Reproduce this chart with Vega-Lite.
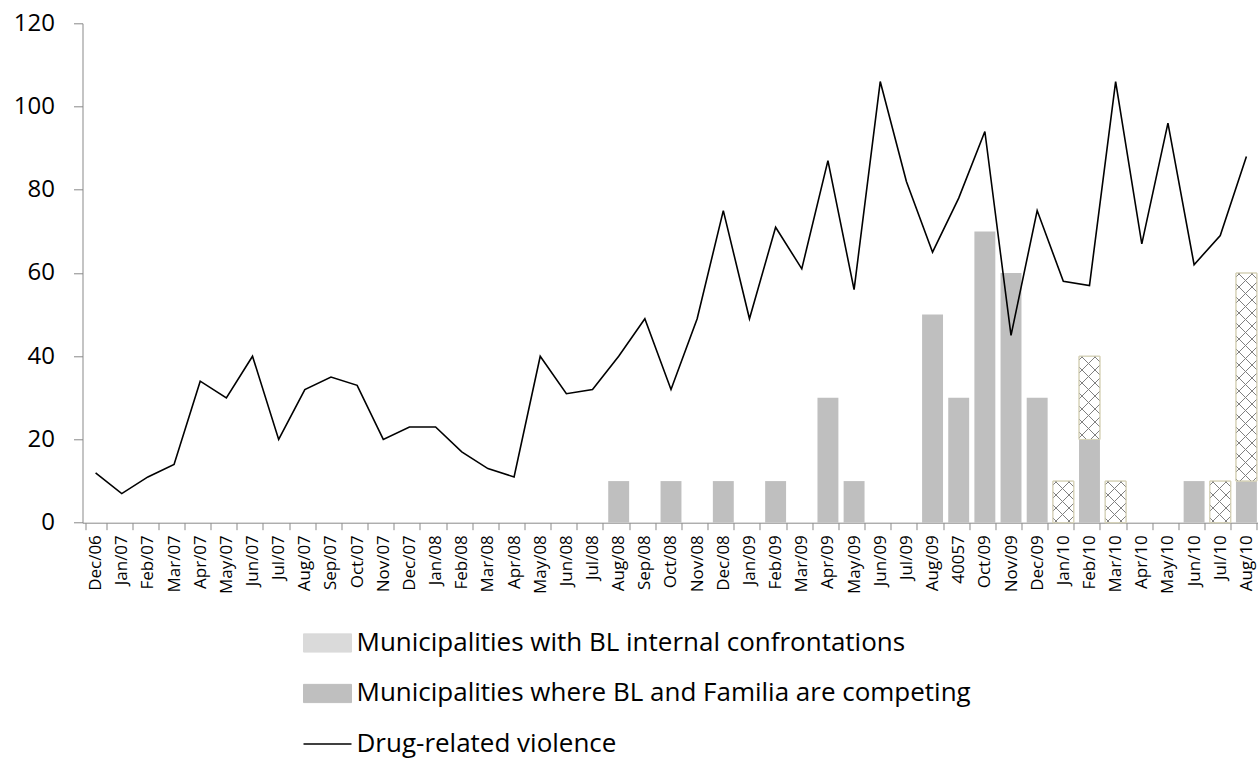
{
  "$schema": "https://vega.github.io/schema/vega-lite/v6.json",
  "width": 1177,
  "height": 499.4,
  "autosize": {"type": "none"},
  "padding": {"left": 82.5, "top": 23.3, "right": 0, "bottom": 236},
  "background": "#ffffff",
  "config": {
    "view": {"stroke": null},
    "axis": {"grid": false, "domainColor": "#898989", "tickColor": "#898989", "labelColor": "#000000", "labelFont": "Open Sans", "title": null},
    "legend": {"labelFont": "Open Sans"}
  },
  "datasets": {
    "violence": [
      {"month": "Dec/06", "violence": 12}, {"month": "Jan/07", "violence": 7}, {"month": "Feb/07", "violence": 11},
      {"month": "Mar/07", "violence": 14}, {"month": "Apr/07", "violence": 34}, {"month": "May/07", "violence": 30},
      {"month": "Jun/07", "violence": 40}, {"month": "Jul/07", "violence": 20}, {"month": "Aug/07", "violence": 32},
      {"month": "Sep/07", "violence": 35}, {"month": "Oct/07", "violence": 33}, {"month": "Nov/07", "violence": 20},
      {"month": "Dec/07", "violence": 23}, {"month": "Jan/08", "violence": 23}, {"month": "Feb/08", "violence": 17},
      {"month": "Mar/08", "violence": 13}, {"month": "Apr/08", "violence": 11}, {"month": "May/08", "violence": 40},
      {"month": "Jun/08", "violence": 31}, {"month": "Jul/08", "violence": 32}, {"month": "Aug/08", "violence": 40},
      {"month": "Sep/08", "violence": 49}, {"month": "Oct/08", "violence": 32}, {"month": "Nov/08", "violence": 49},
      {"month": "Dec/08", "violence": 75}, {"month": "Jan/09", "violence": 49}, {"month": "Feb/09", "violence": 71},
      {"month": "Mar/09", "violence": 61}, {"month": "Apr/09", "violence": 87}, {"month": "May/09", "violence": 56},
      {"month": "Jun/09", "violence": 106}, {"month": "Jul/09", "violence": 82}, {"month": "Aug/09", "violence": 65},
      {"month": "40057", "violence": 78}, {"month": "Oct/09", "violence": 94}, {"month": "Nov/09", "violence": 45},
      {"month": "Dec/09", "violence": 75}, {"month": "Jan/10", "violence": 58}, {"month": "Feb/10", "violence": 57},
      {"month": "Mar/10", "violence": 106}, {"month": "Apr/10", "violence": 67}, {"month": "May/10", "violence": 96},
      {"month": "Jun/10", "violence": 62}, {"month": "Jul/10", "violence": 69}, {"month": "Aug/10", "violence": 88}
    ],
    "bars": [
      {"month": "Aug/08", "series": "Municipalities where BL and Familia are competing", "value": 10},
      {"month": "Oct/08", "series": "Municipalities where BL and Familia are competing", "value": 10},
      {"month": "Dec/08", "series": "Municipalities where BL and Familia are competing", "value": 10},
      {"month": "Feb/09", "series": "Municipalities where BL and Familia are competing", "value": 10},
      {"month": "Apr/09", "series": "Municipalities where BL and Familia are competing", "value": 30},
      {"month": "May/09", "series": "Municipalities where BL and Familia are competing", "value": 10},
      {"month": "Aug/09", "series": "Municipalities where BL and Familia are competing", "value": 50},
      {"month": "40057", "series": "Municipalities where BL and Familia are competing", "value": 30},
      {"month": "Oct/09", "series": "Municipalities where BL and Familia are competing", "value": 70},
      {"month": "Nov/09", "series": "Municipalities where BL and Familia are competing", "value": 60},
      {"month": "Dec/09", "series": "Municipalities where BL and Familia are competing", "value": 30},
      {"month": "Feb/10", "series": "Municipalities where BL and Familia are competing", "value": 20},
      {"month": "Jun/10", "series": "Municipalities where BL and Familia are competing", "value": 10},
      {"month": "Aug/10", "series": "Municipalities where BL and Familia are competing", "value": 10},
      {"month": "Jan/10", "series": "Municipalities with BL internal confrontations", "value": 10},
      {"month": "Feb/10", "series": "Municipalities with BL internal confrontations", "value": 20},
      {"month": "Mar/10", "series": "Municipalities with BL internal confrontations", "value": 10},
      {"month": "Jul/10", "series": "Municipalities with BL internal confrontations", "value": 10},
      {"month": "Aug/10", "series": "Municipalities with BL internal confrontations", "value": 50}
    ]
  },
  "encoding": {
    "x": {
      "field": "month", "type": "nominal",
      "scale": {
        "domain": ["Dec/06","Jan/07","Feb/07","Mar/07","Apr/07","May/07","Jun/07","Jul/07","Aug/07","Sep/07","Oct/07","Nov/07","Dec/07","Jan/08","Feb/08","Mar/08","Apr/08","May/08","Jun/08","Jul/08","Aug/08","Sep/08","Oct/08","Nov/08","Dec/08","Jan/09","Feb/09","Mar/09","Apr/09","May/09","Jun/09","Jul/09","Aug/09","40057","Oct/09","Nov/09","Dec/09","Jan/10","Feb/10","Mar/10","Apr/10","May/10","Jun/10","Jul/10","Aug/10"],
        "paddingInner": 0.2, "paddingOuter": 0.1
      },
      "axis": {"title": null, "labelAngle": -90, "tickBand": "extent", "tickSize": 7, "labelPadding": 5, "labelFontSize": 17}
    }
  },
  "layer": [
    {
      "data": {"name": "bars"},
      "transform": [{"stack": "value", "groupby": ["month"], "sort": [{"field": "series", "order": "ascending"}], "as": ["v0", "v1"]}, {"filter": "datum.series === 'Municipalities where BL and Familia are competing'"}],
      "mark": {"type": "bar"},
      "encoding": {
        "y": {"field": "v1", "type": "quantitative", "scale": {"domain": [0, 120], "nice": false}, "axis": {"title": null, "values": [0, 20, 40, 60, 80, 100, 120], "tickSize": 9, "labelPadding": 19, "labelFontSize": 24}},
        "y2": {"field": "v0"},
        "color": {
          "field": "series", "type": "nominal",
          "scale": {"domain": ["Municipalities with BL internal confrontations", "Municipalities where BL and Familia are competing", "Drug-related violence"], "range": ["#dadada", "#bfbfbf", "#000000"]},
          "legend": {
            "title": null, "orient": "none", "legendX": 232, "legendY": 606.7, "direction": "vertical", "padding": 0,
            "symbolType": "M-1,-0.38H1V0.38H-1Z", "symbolSize": 2304, "labelFontSize": 26, "labelColor": "#000000", "labelLimit": 0, "labelOffset": 16, "rowPadding": 24.5,
            "encode": {"symbols": {"update": {
              "shape": {"signal": "datum.value === 'Drug-related violence' ? 'M-1,0H1' : 'M-1,-0.38H1V0.38H-1Z'"},
              "stroke": {"signal": "datum.value === 'Drug-related violence' ? '#000000' : (datum.value === 'Municipalities with BL internal confrontations' ? '#d6d2b8' : 'transparent')"},
              "strokeWidth": {"signal": "datum.value === 'Drug-related violence' ? 1.6 : 1"},
              "opacity": {"value": 1}
            }}}
          }
        }
      }
    },
    {
      "data": {"name": "bars"},
      "transform": [{"stack": "value", "groupby": ["month"], "sort": [{"field": "series", "order": "ascending"}], "as": ["v0", "v1"]}, {"filter": "datum.series === 'Municipalities with BL internal confrontations'"}],
      "mark": {"type": "bar", "fill": "#ffffff", "stroke": "#d6d2b8", "strokeWidth": 1},
      "encoding": {"y": {"field": "v1", "type": "quantitative", "axis": {"title": null}}, "y2": {"field": "v0"}}
    },
    {
      "data": {"name": "bars"},
      "transform": [{"stack": "value", "groupby": ["month"], "sort": [{"field": "series", "order": "ascending"}], "as": ["v0", "v1"]}, {"filter": "datum.series === 'Municipalities with BL internal confrontations' && datum.value === 10"}],
      "mark": {"type": "bar", "stroke": null, "fill": {"gradient": "linear", "x1": 0, "y1": 0, "x2": 1, "y2": 1.99, "stops": [
        {"offset": 0.0323, "color": "rgba(127,127,127,0)"}, {"offset": 0.0323, "color": "#808080"}, {"offset": 0.0449, "color": "#808080"}, {"offset": 0.0449, "color": "rgba(127,127,127,0)"},
        {"offset": 0.1577, "color": "rgba(127,127,127,0)"}, {"offset": 0.1577, "color": "#808080"}, {"offset": 0.1703, "color": "#808080"}, {"offset": 0.1703, "color": "rgba(127,127,127,0)"},
        {"offset": 0.2830, "color": "rgba(127,127,127,0)"}, {"offset": 0.2830, "color": "#808080"}, {"offset": 0.2956, "color": "#808080"}, {"offset": 0.2956, "color": "rgba(127,127,127,0)"},
        {"offset": 0.4084, "color": "rgba(127,127,127,0)"}, {"offset": 0.4084, "color": "#808080"}, {"offset": 0.4210, "color": "#808080"}, {"offset": 0.4210, "color": "rgba(127,127,127,0)"},
        {"offset": 0.5337, "color": "rgba(127,127,127,0)"}, {"offset": 0.5337, "color": "#808080"}, {"offset": 0.5463, "color": "#808080"}, {"offset": 0.5463, "color": "rgba(127,127,127,0)"}
      ]}},
      "encoding": {"y": {"field": "v1", "type": "quantitative", "axis": {"title": null}}, "y2": {"field": "v0"}}
    },
    {
      "data": {"name": "bars"},
      "transform": [{"stack": "value", "groupby": ["month"], "sort": [{"field": "series", "order": "ascending"}], "as": ["v0", "v1"]}, {"filter": "datum.series === 'Municipalities with BL internal confrontations' && datum.value === 10"}],
      "mark": {"type": "bar", "stroke": null, "fill": {"gradient": "linear", "x1": 0, "y1": 1.99, "x2": 1, "y2": 0, "stops": [
        {"offset": 0.4354, "color": "rgba(127,127,127,0)"}, {"offset": 0.4354, "color": "#808080"}, {"offset": 0.4480, "color": "#808080"}, {"offset": 0.4480, "color": "rgba(127,127,127,0)"},
        {"offset": 0.5607, "color": "rgba(127,127,127,0)"}, {"offset": 0.5607, "color": "#808080"}, {"offset": 0.5733, "color": "#808080"}, {"offset": 0.5733, "color": "rgba(127,127,127,0)"},
        {"offset": 0.6861, "color": "rgba(127,127,127,0)"}, {"offset": 0.6861, "color": "#808080"}, {"offset": 0.6987, "color": "#808080"}, {"offset": 0.6987, "color": "rgba(127,127,127,0)"},
        {"offset": 0.8114, "color": "rgba(127,127,127,0)"}, {"offset": 0.8114, "color": "#808080"}, {"offset": 0.8240, "color": "#808080"}, {"offset": 0.8240, "color": "rgba(127,127,127,0)"},
        {"offset": 0.9368, "color": "rgba(127,127,127,0)"}, {"offset": 0.9368, "color": "#808080"}, {"offset": 0.9494, "color": "#808080"}, {"offset": 0.9494, "color": "rgba(127,127,127,0)"}
      ]}},
      "encoding": {"y": {"field": "v1", "type": "quantitative", "axis": {"title": null}}, "y2": {"field": "v0"}}
    },
    {
      "data": {"name": "bars"},
      "transform": [{"stack": "value", "groupby": ["month"], "sort": [{"field": "series", "order": "ascending"}], "as": ["v0", "v1"]}, {"filter": "datum.series === 'Municipalities with BL internal confrontations' && datum.value === 20"}],
      "mark": {"type": "bar", "stroke": null, "fill": {"gradient": "linear", "x1": 0, "y1": 0, "x2": 1, "y2": 3.981, "stops": [
        {"offset": 0.00951, "color": "rgba(127,127,127,0)"}, {"offset": 0.00951, "color": "#808080"}, {"offset": 0.01321, "color": "#808080"}, {"offset": 0.01321, "color": "rgba(127,127,127,0)"},
        {"offset": 0.04642, "color": "rgba(127,127,127,0)"}, {"offset": 0.04642, "color": "#808080"}, {"offset": 0.05012, "color": "#808080"}, {"offset": 0.05012, "color": "rgba(127,127,127,0)"},
        {"offset": 0.08333, "color": "rgba(127,127,127,0)"}, {"offset": 0.08333, "color": "#808080"}, {"offset": 0.08703, "color": "#808080"}, {"offset": 0.08703, "color": "rgba(127,127,127,0)"},
        {"offset": 0.12024, "color": "rgba(127,127,127,0)"}, {"offset": 0.12024, "color": "#808080"}, {"offset": 0.12394, "color": "#808080"}, {"offset": 0.12394, "color": "rgba(127,127,127,0)"},
        {"offset": 0.15715, "color": "rgba(127,127,127,0)"}, {"offset": 0.15715, "color": "#808080"}, {"offset": 0.16085, "color": "#808080"}, {"offset": 0.16085, "color": "rgba(127,127,127,0)"},
        {"offset": 0.19406, "color": "rgba(127,127,127,0)"}, {"offset": 0.19406, "color": "#808080"}, {"offset": 0.19776, "color": "#808080"}, {"offset": 0.19776, "color": "rgba(127,127,127,0)"},
        {"offset": 0.23097, "color": "rgba(127,127,127,0)"}, {"offset": 0.23097, "color": "#808080"}, {"offset": 0.23467, "color": "#808080"}, {"offset": 0.23467, "color": "rgba(127,127,127,0)"},
        {"offset": 0.26788, "color": "rgba(127,127,127,0)"}, {"offset": 0.26788, "color": "#808080"}, {"offset": 0.27158, "color": "#808080"}, {"offset": 0.27158, "color": "rgba(127,127,127,0)"}
      ]}},
      "encoding": {"y": {"field": "v1", "type": "quantitative", "axis": {"title": null}}, "y2": {"field": "v0"}}
    },
    {
      "data": {"name": "bars"},
      "transform": [{"stack": "value", "groupby": ["month"], "sort": [{"field": "series", "order": "ascending"}], "as": ["v0", "v1"]}, {"filter": "datum.series === 'Municipalities with BL internal confrontations' && datum.value === 20"}],
      "mark": {"type": "bar", "stroke": null, "fill": {"gradient": "linear", "x1": 0, "y1": 3.981, "x2": 1, "y2": 0, "stops": [
        {"offset": 0.72275, "color": "rgba(127,127,127,0)"}, {"offset": 0.72275, "color": "#808080"}, {"offset": 0.72645, "color": "#808080"}, {"offset": 0.72645, "color": "rgba(127,127,127,0)"},
        {"offset": 0.75965, "color": "rgba(127,127,127,0)"}, {"offset": 0.75965, "color": "#808080"}, {"offset": 0.76335, "color": "#808080"}, {"offset": 0.76335, "color": "rgba(127,127,127,0)"},
        {"offset": 0.79655, "color": "rgba(127,127,127,0)"}, {"offset": 0.79655, "color": "#808080"}, {"offset": 0.80025, "color": "#808080"}, {"offset": 0.80025, "color": "rgba(127,127,127,0)"},
        {"offset": 0.83345, "color": "rgba(127,127,127,0)"}, {"offset": 0.83345, "color": "#808080"}, {"offset": 0.83715, "color": "#808080"}, {"offset": 0.83715, "color": "rgba(127,127,127,0)"},
        {"offset": 0.87035, "color": "rgba(127,127,127,0)"}, {"offset": 0.87035, "color": "#808080"}, {"offset": 0.87405, "color": "#808080"}, {"offset": 0.87405, "color": "rgba(127,127,127,0)"},
        {"offset": 0.90725, "color": "rgba(127,127,127,0)"}, {"offset": 0.90725, "color": "#808080"}, {"offset": 0.91095, "color": "#808080"}, {"offset": 0.91095, "color": "rgba(127,127,127,0)"},
        {"offset": 0.94425, "color": "rgba(127,127,127,0)"}, {"offset": 0.94425, "color": "#808080"}, {"offset": 0.94795, "color": "#808080"}, {"offset": 0.94795, "color": "rgba(127,127,127,0)"},
        {"offset": 0.98115, "color": "rgba(127,127,127,0)"}, {"offset": 0.98115, "color": "#808080"}, {"offset": 0.98485, "color": "#808080"}, {"offset": 0.98485, "color": "rgba(127,127,127,0)"}
      ]}},
      "encoding": {"y": {"field": "v1", "type": "quantitative", "axis": {"title": null}}, "y2": {"field": "v0"}}
    },
    {
      "data": {"name": "bars"},
      "transform": [{"stack": "value", "groupby": ["month"], "sort": [{"field": "series", "order": "ascending"}], "as": ["v0", "v1"]}, {"filter": "datum.series === 'Municipalities with BL internal confrontations' && datum.value === 50"}],
      "mark": {"type": "bar", "stroke": null, "fill": {"gradient": "linear", "x1": 0, "y1": 0, "x2": 1, "y2": 9.952, "stops": [
        {"offset": 0.00160, "color": "rgba(127,127,127,0)"}, {"offset": 0.00160, "color": "#808080"}, {"offset": 0.00222, "color": "#808080"}, {"offset": 0.00222, "color": "rgba(127,127,127,0)"},
        {"offset": 0.00782, "color": "rgba(127,127,127,0)"}, {"offset": 0.00782, "color": "#808080"}, {"offset": 0.00844, "color": "#808080"}, {"offset": 0.00844, "color": "rgba(127,127,127,0)"},
        {"offset": 0.01404, "color": "rgba(127,127,127,0)"}, {"offset": 0.01404, "color": "#808080"}, {"offset": 0.01466, "color": "#808080"}, {"offset": 0.01466, "color": "rgba(127,127,127,0)"},
        {"offset": 0.02025, "color": "rgba(127,127,127,0)"}, {"offset": 0.02025, "color": "#808080"}, {"offset": 0.02087, "color": "#808080"}, {"offset": 0.02087, "color": "rgba(127,127,127,0)"},
        {"offset": 0.02647, "color": "rgba(127,127,127,0)"}, {"offset": 0.02647, "color": "#808080"}, {"offset": 0.02709, "color": "#808080"}, {"offset": 0.02709, "color": "rgba(127,127,127,0)"},
        {"offset": 0.03269, "color": "rgba(127,127,127,0)"}, {"offset": 0.03269, "color": "#808080"}, {"offset": 0.03331, "color": "#808080"}, {"offset": 0.03331, "color": "rgba(127,127,127,0)"},
        {"offset": 0.03891, "color": "rgba(127,127,127,0)"}, {"offset": 0.03891, "color": "#808080"}, {"offset": 0.03953, "color": "#808080"}, {"offset": 0.03953, "color": "rgba(127,127,127,0)"},
        {"offset": 0.04512, "color": "rgba(127,127,127,0)"}, {"offset": 0.04512, "color": "#808080"}, {"offset": 0.04574, "color": "#808080"}, {"offset": 0.04574, "color": "rgba(127,127,127,0)"},
        {"offset": 0.05134, "color": "rgba(127,127,127,0)"}, {"offset": 0.05134, "color": "#808080"}, {"offset": 0.05196, "color": "#808080"}, {"offset": 0.05196, "color": "rgba(127,127,127,0)"},
        {"offset": 0.05756, "color": "rgba(127,127,127,0)"}, {"offset": 0.05756, "color": "#808080"}, {"offset": 0.05818, "color": "#808080"}, {"offset": 0.05818, "color": "rgba(127,127,127,0)"},
        {"offset": 0.06377, "color": "rgba(127,127,127,0)"}, {"offset": 0.06377, "color": "#808080"}, {"offset": 0.06439, "color": "#808080"}, {"offset": 0.06439, "color": "rgba(127,127,127,0)"},
        {"offset": 0.06999, "color": "rgba(127,127,127,0)"}, {"offset": 0.06999, "color": "#808080"}, {"offset": 0.07061, "color": "#808080"}, {"offset": 0.07061, "color": "rgba(127,127,127,0)"},
        {"offset": 0.07621, "color": "rgba(127,127,127,0)"}, {"offset": 0.07621, "color": "#808080"}, {"offset": 0.07683, "color": "#808080"}, {"offset": 0.07683, "color": "rgba(127,127,127,0)"},
        {"offset": 0.08243, "color": "rgba(127,127,127,0)"}, {"offset": 0.08243, "color": "#808080"}, {"offset": 0.08305, "color": "#808080"}, {"offset": 0.08305, "color": "rgba(127,127,127,0)"},
        {"offset": 0.08864, "color": "rgba(127,127,127,0)"}, {"offset": 0.08864, "color": "#808080"}, {"offset": 0.08926, "color": "#808080"}, {"offset": 0.08926, "color": "rgba(127,127,127,0)"},
        {"offset": 0.09486, "color": "rgba(127,127,127,0)"}, {"offset": 0.09486, "color": "#808080"}, {"offset": 0.09548, "color": "#808080"}, {"offset": 0.09548, "color": "rgba(127,127,127,0)"},
        {"offset": 0.10108, "color": "rgba(127,127,127,0)"}, {"offset": 0.10108, "color": "#808080"}, {"offset": 0.10170, "color": "#808080"}, {"offset": 0.10170, "color": "rgba(127,127,127,0)"},
        {"offset": 0.10729, "color": "rgba(127,127,127,0)"}, {"offset": 0.10729, "color": "#808080"}, {"offset": 0.10791, "color": "#808080"}, {"offset": 0.10791, "color": "rgba(127,127,127,0)"}
      ]}},
      "encoding": {"y": {"field": "v1", "type": "quantitative", "axis": {"title": null}}, "y2": {"field": "v0"}}
    },
    {
      "data": {"name": "bars"},
      "transform": [{"stack": "value", "groupby": ["month"], "sort": [{"field": "series", "order": "ascending"}], "as": ["v0", "v1"]}, {"filter": "datum.series === 'Municipalities with BL internal confrontations' && datum.value === 50"}],
      "mark": {"type": "bar", "stroke": null, "fill": {"gradient": "linear", "x1": 0, "y1": 9.952, "x2": 1, "y2": 0, "stops": [
        {"offset": 0.89113, "color": "rgba(127,127,127,0)"}, {"offset": 0.89113, "color": "#808080"}, {"offset": 0.89175, "color": "#808080"}, {"offset": 0.89175, "color": "rgba(127,127,127,0)"},
        {"offset": 0.89735, "color": "rgba(127,127,127,0)"}, {"offset": 0.89735, "color": "#808080"}, {"offset": 0.89797, "color": "#808080"}, {"offset": 0.89797, "color": "rgba(127,127,127,0)"},
        {"offset": 0.90356, "color": "rgba(127,127,127,0)"}, {"offset": 0.90356, "color": "#808080"}, {"offset": 0.90418, "color": "#808080"}, {"offset": 0.90418, "color": "rgba(127,127,127,0)"},
        {"offset": 0.90978, "color": "rgba(127,127,127,0)"}, {"offset": 0.90978, "color": "#808080"}, {"offset": 0.91040, "color": "#808080"}, {"offset": 0.91040, "color": "rgba(127,127,127,0)"},
        {"offset": 0.91600, "color": "rgba(127,127,127,0)"}, {"offset": 0.91600, "color": "#808080"}, {"offset": 0.91662, "color": "#808080"}, {"offset": 0.91662, "color": "rgba(127,127,127,0)"},
        {"offset": 0.92222, "color": "rgba(127,127,127,0)"}, {"offset": 0.92222, "color": "#808080"}, {"offset": 0.92284, "color": "#808080"}, {"offset": 0.92284, "color": "rgba(127,127,127,0)"},
        {"offset": 0.92843, "color": "rgba(127,127,127,0)"}, {"offset": 0.92843, "color": "#808080"}, {"offset": 0.92905, "color": "#808080"}, {"offset": 0.92905, "color": "rgba(127,127,127,0)"},
        {"offset": 0.93465, "color": "rgba(127,127,127,0)"}, {"offset": 0.93465, "color": "#808080"}, {"offset": 0.93527, "color": "#808080"}, {"offset": 0.93527, "color": "rgba(127,127,127,0)"},
        {"offset": 0.94087, "color": "rgba(127,127,127,0)"}, {"offset": 0.94087, "color": "#808080"}, {"offset": 0.94149, "color": "#808080"}, {"offset": 0.94149, "color": "rgba(127,127,127,0)"},
        {"offset": 0.94708, "color": "rgba(127,127,127,0)"}, {"offset": 0.94708, "color": "#808080"}, {"offset": 0.94770, "color": "#808080"}, {"offset": 0.94770, "color": "rgba(127,127,127,0)"},
        {"offset": 0.95330, "color": "rgba(127,127,127,0)"}, {"offset": 0.95330, "color": "#808080"}, {"offset": 0.95392, "color": "#808080"}, {"offset": 0.95392, "color": "rgba(127,127,127,0)"},
        {"offset": 0.95952, "color": "rgba(127,127,127,0)"}, {"offset": 0.95952, "color": "#808080"}, {"offset": 0.96014, "color": "#808080"}, {"offset": 0.96014, "color": "rgba(127,127,127,0)"},
        {"offset": 0.96573, "color": "rgba(127,127,127,0)"}, {"offset": 0.96573, "color": "#808080"}, {"offset": 0.96635, "color": "#808080"}, {"offset": 0.96635, "color": "rgba(127,127,127,0)"},
        {"offset": 0.97195, "color": "rgba(127,127,127,0)"}, {"offset": 0.97195, "color": "#808080"}, {"offset": 0.97257, "color": "#808080"}, {"offset": 0.97257, "color": "rgba(127,127,127,0)"},
        {"offset": 0.97817, "color": "rgba(127,127,127,0)"}, {"offset": 0.97817, "color": "#808080"}, {"offset": 0.97879, "color": "#808080"}, {"offset": 0.97879, "color": "rgba(127,127,127,0)"},
        {"offset": 0.98439, "color": "rgba(127,127,127,0)"}, {"offset": 0.98439, "color": "#808080"}, {"offset": 0.98501, "color": "#808080"}, {"offset": 0.98501, "color": "rgba(127,127,127,0)"},
        {"offset": 0.99060, "color": "rgba(127,127,127,0)"}, {"offset": 0.99060, "color": "#808080"}, {"offset": 0.99122, "color": "#808080"}, {"offset": 0.99122, "color": "rgba(127,127,127,0)"},
        {"offset": 0.99682, "color": "rgba(127,127,127,0)"}, {"offset": 0.99682, "color": "#808080"}, {"offset": 0.99744, "color": "#808080"}, {"offset": 0.99744, "color": "rgba(127,127,127,0)"}
      ]}},
      "encoding": {"y": {"field": "v1", "type": "quantitative", "axis": {"title": null}}, "y2": {"field": "v0"}}
    },
    {
      "data": {"name": "bars"},
      "transform": [{"stack": "value", "groupby": ["month"], "sort": [{"field": "series", "order": "ascending"}], "as": ["v0", "v1"]}, {"filter": "datum.series === 'Municipalities with BL internal confrontations'"}],
      "mark": {"type": "bar", "fill": null, "fillOpacity": 0, "stroke": "#d6d2b8", "strokeWidth": 1},
      "encoding": {"y": {"field": "v1", "type": "quantitative", "axis": {"title": null}}, "y2": {"field": "v0"}}
    },
    {
      "data": {"name": "violence"},
      "mark": {"type": "line", "strokeWidth": 1.6},
      "encoding": {
        "y": {"field": "violence", "type": "quantitative", "axis": {"title": null}},
        "color": {"datum": "Drug-related violence", "type": "nominal"}
      }
    }
  ]
}
